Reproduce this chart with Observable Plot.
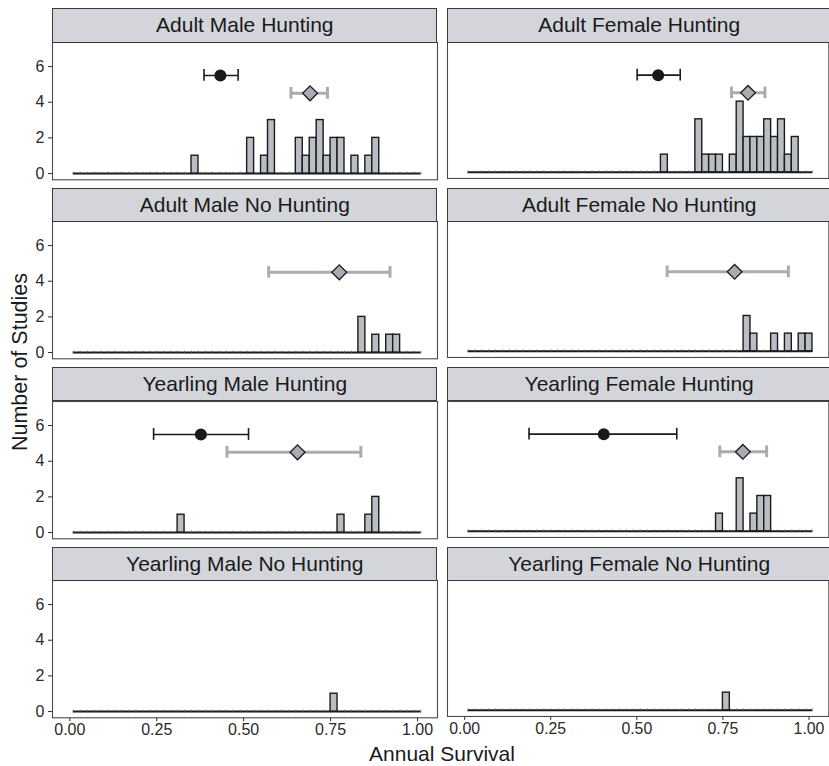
<!DOCTYPE html>
<html><head><meta charset="utf-8">
<script src="https://cdn.jsdelivr.net/npm/d3@7"></script>
<script src="https://cdn.jsdelivr.net/npm/@observablehq/plot@0.6"></script>
<style>
body{margin:0;background:#fff;font-family:"Liberation Sans",Arial,sans-serif;}
#root{position:relative;width:829px;height:766px;overflow:hidden;background:#fff;}
.strip{position:absolute;box-sizing:border-box;background:#d3d5da;border:1px solid #3a3a3a;font-size:21px;color:#1a1a1a;display:flex;align-items:center;justify-content:center;white-space:nowrap;}
.panel{position:absolute;}
.panel svg{display:block;overflow:visible;}
.ytitle{position:absolute;font-size:21.5px;color:#1a1a1a;white-space:nowrap;transform:translate(-50%,-50%) rotate(-90deg);}
.xtitle{position:absolute;font-size:21px;color:#1a1a1a;white-space:nowrap;transform:translateX(-50%);line-height:1;}
</style></head><body><div id="root"></div>
<script>
// ---------- data ----------
const titles = ["Adult Male Hunting","Adult Female Hunting","Adult Male No Hunting","Adult Female No Hunting",
  "Yearling Male Hunting","Yearling Female Hunting","Yearling Male No Hunting","Yearling Female No Hunting"];

// histogram bins (bin centres, width 0.02) and counts per panel
const amhBins = [0.36,0.52,0.56,0.58,0.66,0.68,0.70,0.72,0.74,0.76,0.78,0.82,0.86,0.88];
const amhCounts = [1,2,1,3,2,1,2,3,1,2,2,1,1,2];
const afhBins = [0.58,0.68,0.70,0.72,0.74,0.78,0.80,0.82,0.84,0.86,0.88,0.90,0.92,0.94,0.96];
const afhCounts = [1,3,1,1,1,1,4,2,2,2,3,2,3,1,2];
const amnBins = [0.84,0.88,0.92,0.94];
const amnCounts = [2,1,1,1];
const afnBins = [0.82,0.84,0.90,0.94,0.98,1.00];
const afnCounts = [2,1,1,1,1,1];
const ymhBins = [0.32,0.78,0.86,0.88];
const ymhCounts = [1,1,1,2];
const yfhBins = [0.74,0.80,0.84,0.86,0.88];
const yfhCounts = [1,3,1,2,2];
const ymnBins = [0.76];
const ymnCounts = [1];
const yfnBins = [0.76];
const yfnCounts = [1];

// estimates (black circle = first estimate, grey diamond = second estimate)
const blackMean = [0.433,0.562,null,null,0.377,0.404,null,null];
const blackLo   = [0.386,0.501,null,null,0.241,0.187,null,null];
const blackHi   = [0.484,0.626,null,null,0.514,0.616,null,null];
const greyMean  = [0.691,0.823,0.775,0.784,0.655,0.808,null,null];
const greyLo    = [0.636,0.775,0.572,0.588,0.452,0.741,null,null];
const greyHi    = [0.741,0.872,0.921,0.940,0.837,0.877,null,null];
const blackY = 5.5, greyY = 4.5;

const xTicks = [0,0.25,0.5,0.75,1];
const yTicks = [0,2,4,6];
const binWidth = 0.02, binStart = 0.01, binEnd = 1.01;

// ---------- build ----------
const binSets = [[amhBins,amhCounts],[afhBins,afhCounts],[amnBins,amnCounts],[afnBins,afnCounts],
  [ymhBins,ymhCounts],[yfhBins,yfhCounts],[ymnBins,ymnCounts],[yfnBins,yfnCounts]];
const edges = d3.range(0, 51).map(i => +(binStart + i*binWidth).toFixed(3));

const root = document.getElementById("root");
const colLeft = [52.3, 446.7];
const panelW = 385;
const stripH = 33.4, panelH = 137.3, rowPitch = 179.4, top0 = 8.3;
const ink = "#1a1a1a", barFill = "#b9bdc4", greyCol = "#a8acb3";

titles.forEach((t, i) => {
  const col = i % 2, row = Math.floor(i / 2);
  const left = colLeft[col];
  const stripTop = top0 + row*rowPitch;
  const pTop = stripTop + stripH;
  const isLeft = col === 0, isBottom = row === 3;
  const mL = isLeft ? 52 : 1, mB = isBottom ? 30 : 1, mT = 1, mR = 1;

  const [bins, counts] = binSets[i];
  const bars = bins.map((c, k) => ({x1: c - binWidth/2, x2: c + binWidth/2, n: counts[k]}));
  const est = [];
  if (blackMean[i] != null) est.push({m: blackMean[i], lo: blackLo[i], hi: blackHi[i], y: blackY, kind: "b"});
  if (greyMean[i] != null) est.push({m: greyMean[i], lo: greyLo[i], hi: greyHi[i], y: greyY, kind: "g"});
  const eb = est.filter(d => d.kind === "b"), eg = est.filter(d => d.kind === "g");

  const chart = Plot.plot({
    width: panelW + mL + mR,
    height: panelH + mT + mB,
    marginLeft: mL, marginRight: mR, marginTop: mT, marginBottom: mB,
    style: {fontSize: "16px", fontFamily: "Liberation Sans, Arial, sans-serif", color: "#2a2a2a", background: "transparent", overflow: "visible"},
    x: {domain: [-0.0498, 1.0575], ticks: xTicks, tickFormat: d3.format(".2f"), axis: isBottom ? "bottom" : null, label: null, tickSize: 4, tickPadding: 2},
    y: {domain: [-0.35, 7.35], ticks: yTicks, axis: isLeft ? "left" : null, label: null, tickSize: 4, tickPadding: 4},
    marks: [
      Plot.ruleY([0], {x1: binStart, x2: binEnd, stroke: ink, strokeWidth: 2}),
      Plot.ruleX(edges, {x: d => d, y1: -0.08, y2: 0.08, stroke: "#555", strokeWidth: 0.7}),
      Plot.rectY(bars, {x1: "x1", x2: "x2", y1: 0, y2: "n", fill: barFill, stroke: ink, strokeWidth: 1.4}),
      Plot.ruleY(eg, {x1: "lo", x2: "hi", y: "y", stroke: greyCol, strokeWidth: 3}),
      Plot.ruleX(eg, {x: "lo", y1: d => d.y - 0.33, y2: d => d.y + 0.33, stroke: greyCol, strokeWidth: 3}),
      Plot.ruleX(eg, {x: "hi", y1: d => d.y - 0.33, y2: d => d.y + 0.33, stroke: greyCol, strokeWidth: 3}),
      Plot.dot(eg, {x: "m", y: "y", symbol: "diamond2", r: 6.7, fill: greyCol, stroke: ink, strokeWidth: 1.3}),
      Plot.ruleY(eb, {x1: "lo", x2: "hi", y: "y", stroke: ink, strokeWidth: 1.6}),
      Plot.ruleX(eb, {x: "lo", y1: d => d.y - 0.33, y2: d => d.y + 0.33, stroke: ink, strokeWidth: 1.6}),
      Plot.ruleX(eb, {x: "hi", y1: d => d.y - 0.33, y2: d => d.y + 0.33, stroke: ink, strokeWidth: 1.6}),
      Plot.dot(eb, {x: "m", y: "y", r: 5.3, fill: ink, stroke: ink}),
      Plot.frame({stroke: "#4a4a4a", strokeWidth: 1.1})
    ]
  });
  const wrap = document.createElement("div");
  wrap.className = "panel";
  wrap.style.left = (left - mL) + "px";
  wrap.style.top = (pTop - mT) + "px";
  wrap.appendChild(chart);
  root.appendChild(wrap);

  const strip = document.createElement("div");
  strip.className = "strip";
  strip.style.left = left + "px";
  strip.style.top = stripTop + "px";
  strip.style.width = panelW + "px";
  strip.style.height = (stripH + 1) + "px";
  strip.textContent = t;
  root.appendChild(strip);
});

const yt = document.createElement("div");
yt.className = "ytitle";
yt.style.left = "20px"; yt.style.top = "362px";
yt.textContent = "Number of Studies";
root.appendChild(yt);

const xt = document.createElement("div");
xt.className = "xtitle";
xt.style.left = "442px"; xt.style.top = "743px";
xt.textContent = "Annual Survival";
root.appendChild(xt);
</script></body></html>
